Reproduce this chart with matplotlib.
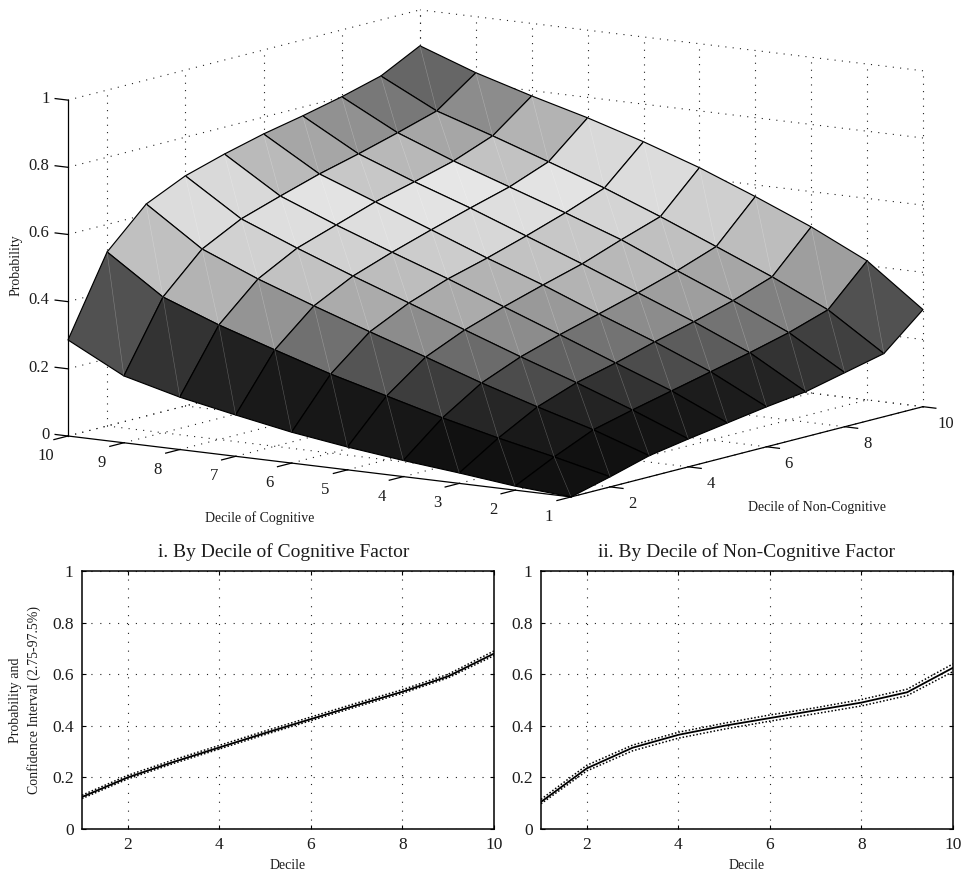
import numpy as np
import matplotlib
matplotlib.use('Agg')
import matplotlib.pyplot as plt
from mpl_toolkits.mplot3d import proj3d

plt.rcParams['font.family'] = ['Liberation Serif', 'DejaVu Serif']

W, H = 964, 877
TXT = '#1c1c1c'

deciles = np.arange(1, 11)

# probability, rows = non-cognitive decile 1..10, columns = cognitive decile 1..10
prob = np.array([
    [0.000, 0.012, 0.031, 0.048, 0.068, 0.092, 0.123, 0.156, 0.199, 0.286],
    [0.030, 0.069, 0.105, 0.145, 0.190, 0.235, 0.287, 0.341, 0.404, 0.518],
    [0.063, 0.120, 0.168, 0.219, 0.276, 0.331, 0.388, 0.448, 0.517, 0.631],
    [0.083, 0.149, 0.210, 0.267, 0.327, 0.387, 0.447, 0.510, 0.577, 0.685],
    [0.101, 0.176, 0.239, 0.303, 0.366, 0.429, 0.488, 0.549, 0.615, 0.720],
    [0.119, 0.203, 0.272, 0.335, 0.401, 0.461, 0.525, 0.588, 0.651, 0.750],
    [0.134, 0.230, 0.302, 0.368, 0.434, 0.497, 0.560, 0.618, 0.681, 0.774],
    [0.161, 0.260, 0.335, 0.404, 0.476, 0.536, 0.593, 0.650, 0.714, 0.801],
    [0.188, 0.298, 0.376, 0.446, 0.515, 0.580, 0.638, 0.695, 0.749, 0.833],
    [0.289, 0.414, 0.495, 0.565, 0.631, 0.688, 0.739, 0.784, 0.833, 0.893],
])

# grey level of each facet, same ordering
face_gray = np.array([
    [.07, .07, .07, .09, .09, .10, .13, .20, .32],
    [.07, .10, .15, .24, .33, .44, .58, .70, .75],
    [.08, .14, .30, .42, .55, .67, .76, .82, .86],
    [.09, .20, .38, .55, .67, .74, .82, .87, .85],
    [.11, .30, .45, .60, .70, .80, .87, .89, .73],
    [.14, .36, .55, .70, .76, .84, .89, .78, .65],
    [.20, .45, .62, .72, .78, .87, .90, .72, .57],
    [.25, .50, .65, .75, .83, .89, .76, .65, .47],
    [.32, .62, .74, .81, .86, .85, .70, .55, .40],
])

cog_mean = [0.124, 0.200, 0.260, 0.316, 0.372, 0.426, 0.480, 0.532, 0.592, 0.680]
cog_upper = [0.131, 0.208, 0.268, 0.324, 0.380, 0.434, 0.488, 0.540, 0.600, 0.690]
cog_lower = [0.118, 0.194, 0.254, 0.310, 0.366, 0.420, 0.474, 0.526, 0.586, 0.672]

noncog_mean = [0.105, 0.235, 0.315, 0.365, 0.400, 0.430, 0.460, 0.490, 0.530, 0.625]
noncog_upper = [0.115, 0.247, 0.325, 0.375, 0.410, 0.442, 0.470, 0.502, 0.542, 0.640]
noncog_lower = [0.098, 0.225, 0.303, 0.352, 0.387, 0.418, 0.447, 0.477, 0.517, 0.610]

z_ticks = [0, 0.2, 0.4, 0.6, 0.8, 1]
z_labels = ['0', '0.2', '0.4', '0.6', '0.8', '1']
noncog_ticks = [2, 4, 6, 8, 10]

fig = plt.figure(figsize=(W / 100, H / 100), dpi=100)

# 3d part, x = non-cognitive, y = cognitive
# axes box is oversized so nothing gets clipped at its square bbox
ax = fig.add_axes([-0.5, -0.5, 2, 2], projection='3d', computed_zorder=False)
ax.set_proj_type('ortho')
ax.view_init(elev=10.15, azim=-145.5)
ax.set_box_aspect((621, 610, 341))
ax.set_xlim(1, 10, view_margin=0)
ax.set_ylim(1, 10, view_margin=0)
ax.set_zlim(0, 1, view_margin=0)
ax.set_axis_off()


def to_px(x, y, z):
    xp, yp, _ = proj3d.proj_transform(x, y, z, ax.get_proj())
    return ax.transData.transform((xp, yp))


# fit the box to the wanted corners of the reference (pixels)
fig.canvas.draw()
left = to_px(1, 10, 0)
right = to_px(10, 1, 0)
zoom = 855 / (right[0] - left[0])
ax.set_box_aspect((621, 610, 341), zoom=zoom)
fig.canvas.draw()
left = to_px(1, 10, 0)
dx = (68 - left[0]) / W
dy = ((H - 436) - left[1]) / H
ax.set_position([-0.5 + dx, -0.5 + dy, 2, 2])
fig.canvas.draw()


def label3d(x, y, z, s, ha='center', shift=0):
    px = to_px(x, y, z)
    fig.text(px[0] / W, (px[1] + shift) / H, s, ha=ha, va='center', fontsize=12, color=TXT)


grid_kw = dict(color='#222222', lw=0.8, ls=(0, (1, 5.6)), zorder=1)
# walls and floor
for z in z_ticks:
    ax.plot([1, 10], [10, 10], [z, z], **grid_kw)
    ax.plot([10, 10], [1, 10], [z, z], **grid_kw)
for n in noncog_ticks:
    ax.plot([n, n], [10, 10], [0, 1], **grid_kw)
    ax.plot([n, n], [1, 10], [0, 0], **grid_kw)
for c in deciles:
    ax.plot([10, 10], [c, c], [0, 1], **grid_kw)
    ax.plot([1, 10], [c, c], [0, 0], **grid_kw)

X, Y = np.meshgrid(deciles, deciles, indexing='ij')
ax.plot_surface(X, Y, prob, rstride=1, cstride=1, facecolors=plt.cm.gray(face_gray),
                edgecolor='black', linewidth=0.85, shade=False, antialiased=True, zorder=2)

# pale seam across each facet
for i in range(9):
    for j in range(9):
        ax.plot([i + 1, i + 2], [j + 1, j + 2], [prob[i, j], prob[i + 1, j + 1]],
                color='white', lw=0.4, alpha=0.28, zorder=3)

# solid axes
axis_kw = dict(color='black', lw=0.9, zorder=4)
ax.plot([1, 1], [10, 10], [0, 1], **axis_kw)
ax.plot([1, 1], [1, 10], [0, 0], **axis_kw)
ax.plot([1, 10], [1, 1], [0, 0], **axis_kw)
for z, lab in zip(z_ticks, z_labels):
    ax.plot([1, 1], [10, 10.23], [z, z], **axis_kw)
    label3d(1, 10.33, z, lab, ha='right', shift=-1)
for c in deciles:
    ax.plot([1, 0.64], [c, c], [0, 0], **axis_kw)
    label3d(0.44, c, -0.04, str(c), shift=-1)
for n in noncog_ticks:
    ax.plot([n, n], [1, 0.77], [0, 0], **axis_kw)
    label3d(n, 0.6, -0.04, str(n), shift=-1)

fig.text(260 / W, 1 - 518 / H, 'Decile of Cognitive', ha='center', va='center', fontsize=10, color=TXT)
fig.text(817 / W, 1 - 507 / H, 'Decile of Non-Cognitive', ha='center', va='center', fontsize=10, color=TXT)
fig.text(16 / W, 1 - 265 / H, 'Probability', rotation=90, ha='center', va='center', fontsize=10, color=TXT)


# bottom panels
def panel(x0, mean, upper, lower, title, title_x):
    a = fig.add_axes([x0 / W, 1 - 829 / H, 412 / W, 258 / H])
    a.plot(deciles, upper, color='black', lw=1.1, ls=(0, (1, 1.3)))
    a.plot(deciles, lower, color='black', lw=1.1, ls=(0, (1, 1.3)))
    a.plot(deciles, mean, color='black', lw=1.3)
    a.set_xlim(1, 10)
    a.set_ylim(0, 1)
    a.set_xticks(noncog_ticks)
    a.set_yticks(z_ticks)
    a.set_yticklabels(z_labels)
    a.tick_params(direction='in', top=True, right=True, length=3, width=0.8,
                  labelsize=12.5, labelcolor=TXT, pad=6)
    a.grid(True, color='#222222', lw=0.8, ls=(0, (1, 7)))
    a.set_axisbelow(True)
    for s in a.spines.values():
        s.set_linewidth(1.1)
    a.set_xlabel('Decile', fontsize=10, color=TXT, labelpad=4)
    a.set_title(title, fontsize=14, color=TXT, pad=10, x=title_x)
    return a


ax1 = panel(82, cog_mean, cog_upper, cog_lower, 'i. By Decile of Cognitive Factor', 0.49)
ax2 = panel(541, noncog_mean, noncog_upper, noncog_lower, 'ii. By Decile of Non-Cognitive Factor', 0.5)
ax1.set_ylabel('Probability and\nConfidence Interval (2.75-97.5%)', fontsize=10, color=TXT,
               labelpad=8, linespacing=1.5)

fig.savefig('out.png', dpi=100)
